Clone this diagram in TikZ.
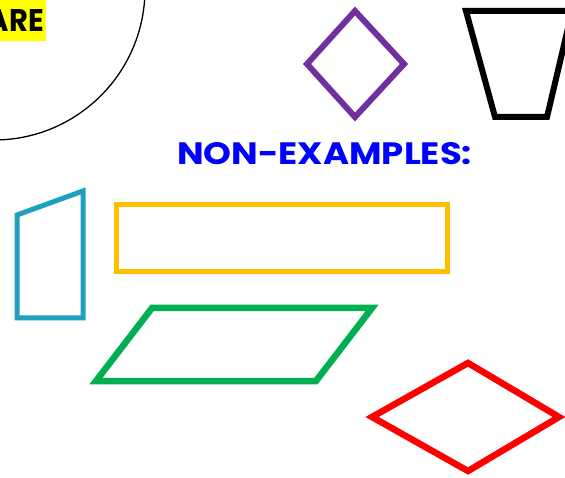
\documentclass[tikz,border=0pt]{standalone}
\usepackage{fontspec}
\newfontfamily\comic{Poppins}
\definecolor{cpurple}{HTML}{7030A0}
\definecolor{ccyan}{HTML}{1EA0BE}
\definecolor{cyellow}{HTML}{FFC000}
\definecolor{cgreen}{HTML}{00B050}
\definecolor{cred}{HTML}{FF0000}
\definecolor{cblue}{HTML}{0000FF}
\definecolor{hl}{HTML}{FFFF00}
\tikzset{
  shapeline/.style={line width=#1, line join=miter},
  lbl/.style={inner sep=0pt, outer sep=0pt, font=\comic\bfseries}
}
\begin{document}
\begin{tikzpicture}[x=1pt,y=-1pt]
\useasboundingbox (0,0) rectangle (565,478);
\clip (0,0) rectangle (565,478);
% circle arc top-left
\draw[line width=1.3pt] (-6,-11) circle[radius=151pt];
% highlighted text
\fill[hl] (-5,-2) rectangle (46,41);
\node[lbl, anchor=south east] (are) at (44,32) {\resizebox{56pt}{22pt}{ARE}};
% purple diamond
\draw[cpurple, shapeline=6pt] (355,11) -- (404,64) -- (355,117) -- (307,64) -- cycle;
% black trapezoid
\draw[black, shapeline=6pt] (466,11) -- (572,11) -- (547,117) -- (495,117) -- cycle;
% title
\node[lbl, text=cblue, anchor=south west] (title) at (177,165) {\resizebox{295pt}{22pt}{NON-EXAMPLES:}};
% cyan quadrilateral
\draw[ccyan, shapeline=5pt] (17,215) -- (83,191) -- (83,318) -- (17,318) -- cycle;
% yellow rectangle
\draw[cyellow, shapeline=5pt] (116,205) rectangle (447,272);
% green parallelogram
\draw[cgreen, shapeline=6.5pt] (152,308) -- (372,308) -- (316,381) -- (96,381) -- cycle;
% red rhombus
\draw[cred, shapeline=6.5pt] (468,363) -- (559,417) -- (468,471) -- (372,417) -- cycle;
\end{tikzpicture}
\end{document}
